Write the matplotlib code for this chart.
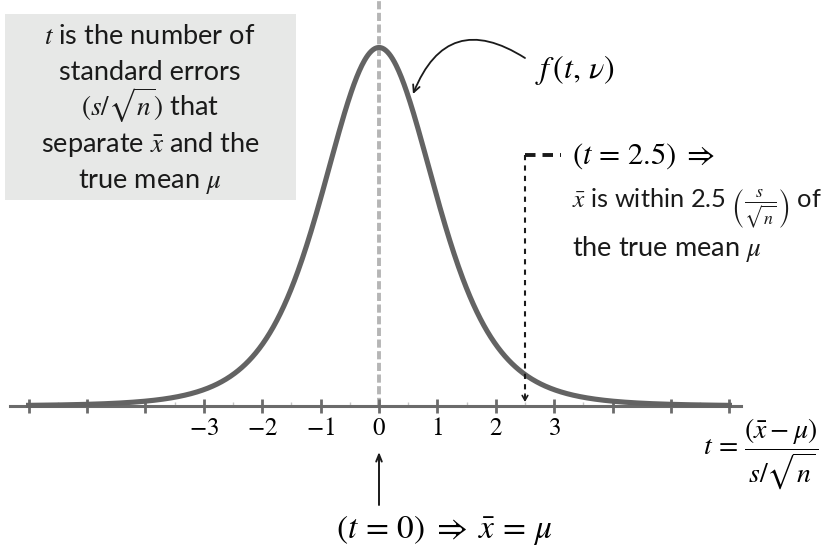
import math
import numpy as np
import matplotlib
matplotlib.use('Agg')
import matplotlib.pyplot as plt
from matplotlib.patches import Rectangle

plt.rcParams['mathtext.fontset'] = 'stix'
plt.rcParams['font.family'] = ['Lato', 'DejaVu Sans']

# Student t density, nu degrees of freedom
nu = 5
t_range = (-6.0, 6.0)
tick_values = [-6, -5, -4, -3, -2, -1, 0, 1, 2, 3, 4, 5, 6]
tick_labels = ['', '', '', '$-3$', '$-2$', '$-1$', '$0$', '$1$', '$2$', '$3$', '', '', '']
t_example = 2.5
note_lines = [r'$t$ is the number of', 'standard errors', r'$(s/\sqrt{n})$ that',
              r'separate $\bar{x}$ and the', r'true mean $\mu$']


def t_pdf(x, df):
    c = math.gamma((df + 1) / 2) / (math.sqrt(df * math.pi) * math.gamma(df / 2))
    return c * (1 + np.asarray(x, dtype=float) ** 2 / df) ** (-(df + 1) / 2)


t = np.linspace(t_range[0], t_range[1], 800)
f = t_pdf(t, nu)
peak = float(t_pdf(0, nu))

W, H = 834, 547
x0, ppu = 379, 58.4          # pixel of t=0, pixels per unit t
y_axis, y_peak = 406, 47.5   # pixel rows of the axis and the peak
k = peak / (y_axis - y_peak)


def at(px, py):
    # pixel position -> data coordinates
    return (px - x0) / ppu, (y_axis - py) * k


fig = plt.figure(figsize=(W / 100, H / 100), dpi=100)
ax = fig.add_axes([0, 0, 1, 1])
ax.set_xlim(-x0 / ppu, (W - x0) / ppu)
ax.set_ylim(-(H - y_axis) * k, y_axis * k)

# axis line with ticks
for s in ['left', 'right', 'top']:
    ax.spines[s].set_visible(False)
ax.spines['bottom'].set_position(('data', 0))
ax.spines['bottom'].set_bounds(-6.32, 6.2)
ax.spines['bottom'].set_linewidth(2.2)
ax.spines['bottom'].set_color('#6b6b6b')
ax.set_yticks([])
ax.set_xticks(tick_values, tick_labels)
ax.set_xticks(np.arange(-5.5, 6, 1), minor=True)
ax.tick_params(axis='x', which='major', direction='inout', length=10, width=2,
               color='#6b6b6b', labelsize=18, pad=2)
ax.tick_params(axis='x', which='minor', direction='in', length=3, width=1,
               color='#c4c4c4')

# note box
ax.add_patch(Rectangle((5 / W, 1 - 200 / H), 291 / W, 186 / H, transform=ax.transAxes,
                       facecolor='#e7e8e7', edgecolor='none', zorder=0))
for i, line in enumerate(note_lines):
    ax.text(150 / W, 1 - (44 + 36 * i) / H, line, transform=ax.transAxes,
            ha='center', va='baseline', fontsize=19.5, color='#1a1a1a')

# dashed centre line and the density curve
ax.plot([0, 0], [0, y_axis * k], color='#b5b5b5', lw=2.8, dashes=(2.1, 0.9), zorder=1)
ax.plot(t, f, color='#636363', lw=3.7, zorder=3)

# f(t, nu) label with curved arrow
ax.text(*at(535, 78), r'$f\,(t,\,\nu)$', fontsize=23, ha='left', va='baseline')
ax.annotate('', xy=at(413, 94), xytext=at(525, 58),
            arrowprops=dict(arrowstyle='->,head_length=0.5,head_width=0.25',
                            connectionstyle='arc3,rad=0.6', lw=1.3,
                            color='#1a1a1a', shrinkA=0, shrinkB=0))

# t = 2.5 marker
y_corner = at(0, 155)[1]
ax.plot([t_example, t_example], [y_corner, at(0, 398)[1]], color='#1a1a1a', lw=1.5,
        dashes=(2.5, 2.5), zorder=4)
ax.plot([t_example, at(561, 0)[0]], [y_corner, y_corner], color='#1a1a1a', lw=2.8,
        dashes=(2.7, 1.8), zorder=4)
ax.annotate('', xy=(t_example, at(0, 402)[1]), xytext=(t_example, at(0, 394)[1]),
            arrowprops=dict(arrowstyle='->,head_length=0.35,head_width=0.2', lw=1.2,
                            color='#1a1a1a', shrinkA=0, shrinkB=0))
ax.text(*at(572, 164), r'$(t\,=\,2.5)\;\Rightarrow$', fontsize=22, ha='left', va='baseline')
ax.text(*at(572, 207), r'$\bar{x}$ is within 2.5 $\left(\frac{s}{\sqrt{n}}\right)$ of',
        fontsize=18.3, ha='left', va='baseline', color='#1a1a1a')
ax.text(*at(572, 256), r'the true mean $\mu$', fontsize=19.5, ha='left', va='baseline',
        color='#1a1a1a')

# t formula under the right end of the axis
ax.text(*at(703, 454), r'$t\,=\,\dfrac{(\bar{x}-\mu)}{s/\sqrt{n}}$', fontsize=20,
        ha='left', va='baseline')

# t = 0 arrow and label
ax.annotate('', xy=(0, at(0, 452)[1]), xytext=(0, at(0, 505)[1]),
            arrowprops=dict(arrowstyle='->,head_length=0.5,head_width=0.2', lw=1.4,
                            color='#1a1a1a', shrinkA=0, shrinkB=0))
ax.text(*at(336, 538), r'$(t\,=\,0)\;\Rightarrow\;\bar{x}\,=\,\mu$', fontsize=24,
        ha='left', va='baseline')

fig.savefig('out.png', dpi=100)
